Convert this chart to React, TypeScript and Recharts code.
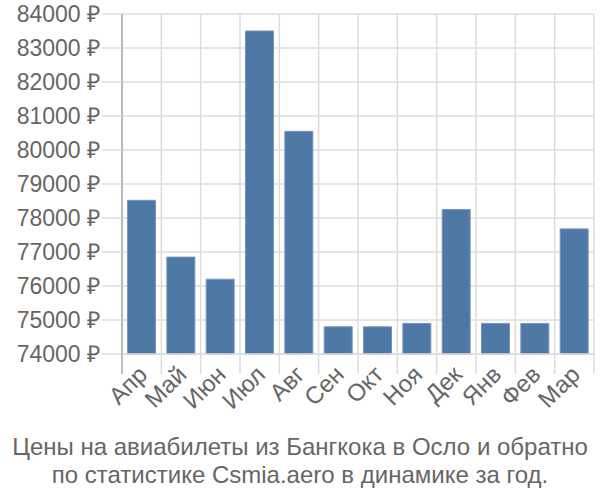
import React from "react";
import { BarChart, Bar, XAxis, YAxis, CartesianGrid } from "recharts";

const MONTHS = ["Апр", "Май", "Июн", "Июл", "Авг", "Сен", "Окт", "Ноя", "Дек", "Янв", "Фев", "Мар"];
const PRICES = [78520, 76850, 76200, 83500, 80550, 74800, 74800, 74900, 78250, 74900, 74900, 77680];
const Y_TICKS = [74000, 75000, 76000, 77000, 78000, 79000, 80000, 81000, 82000, 83000, 84000];
const TITLE_LINES = [
  "Цены на авиабилеты из Бангкока в Осло и обратно",
  "по статистике Csmia.aero в динамике за год.",
];

const data = MONTHS.map((m, i) => ({ month: m, price: PRICES[i] }));

const FONT = "'Liberation Sans', Arial, sans-serif";
const TEXT = "#666666";
const GRID = "#dddddd";
const AXIS = "#aaaaaa";

const XTick = (props: any) => {
  const { x, y, payload, index, visibleTicksCount, width } = props;
  const band = width / visibleTicksCount;
  const left = x - band / 2;
  const right = x + band / 2;
  return (
    <g>
      <line x1={left} x2={left} y1={y} y2={y + 20} stroke={index === 0 ? AXIS : GRID} strokeWidth={1.5} />
      {index === visibleTicksCount - 1 && (
        <line x1={right} x2={right} y1={y} y2={y + 20} stroke={GRID} strokeWidth={1.5} />
      )}
      <text
        transform={`translate(${x + 7},${y + 22}) rotate(-45)`}
        textAnchor="end"
        fill={TEXT}
        fontSize={24}
        fontFamily={FONT}
      >
        {payload.value}
      </text>
    </g>
  );
};

export default function App() {
  return (
    <div style={{ position: "absolute", left: 0, top: 0, width: 600, height: 500 }}>
      <BarChart
        width={600}
        height={500}
        data={data}
        margin={{ top: 14, right: 6, left: 0, bottom: 0 }}
        barCategoryGap="14%"
      >
        <CartesianGrid
          stroke={GRID}
          strokeWidth={1.5}
          verticalCoordinatesGenerator={({ offset }: any) =>
            MONTHS.map((_, i) => offset.left + (i * offset.width) / MONTHS.length).concat([
              offset.left + offset.width,
            ])
          }
        />
        <XAxis
          dataKey="month"
          interval={0}
          height={146}
          tickLine={false}
          tickSize={0}
          tickMargin={0}
          axisLine={{ stroke: GRID, strokeWidth: 1.5 }}
          tick={<XTick />}
        />
        <YAxis
          domain={[74000, 84000]}
          ticks={Y_TICKS}
          interval={0}
          width={122}
          tickSize={20}
          tickMargin={2}
          tickLine={{ stroke: GRID, strokeWidth: 1.5 }}
          axisLine={{ stroke: AXIS, strokeWidth: 1.5 }}
          tickFormatter={(v: number) => `${v} ₽`}
          tick={{ fill: TEXT, fontSize: 23, fontFamily: FONT }}
        />
        <Bar dataKey="price" fill="#4e78a6" stroke="#7895bd" strokeWidth={1} isAnimationActive={false} />
      </BarChart>
      <div
        style={{
          position: "absolute",
          left: 0,
          top: 433,
          width: 600,
          textAlign: "center",
          fontFamily: FONT,
          fontSize: 24,
          lineHeight: "28px",
          color: TEXT,
        }}
      >
        {TITLE_LINES.map((l) => (
          <div key={l}>{l}</div>
        ))}
      </div>
    </div>
  );
}
